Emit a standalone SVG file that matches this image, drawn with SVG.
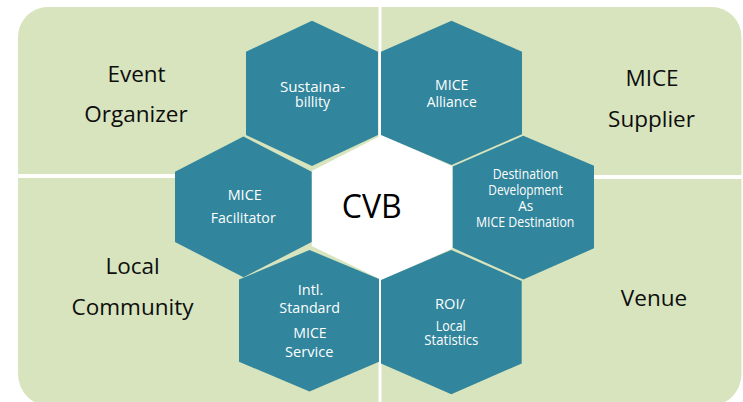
<svg xmlns="http://www.w3.org/2000/svg" width="743" height="402" viewBox="0 0 743 402">
<style>
.quad{fill:#D7E4BD}
.hex{fill:#31859C}
.core{fill:#FFFFFF}
.qlabel{font-family:"Open Sans","Liberation Sans",sans-serif;font-size:22.5px;fill:#0D0D0D;text-anchor:middle}
.core-label{font-family:"Open Sans","Liberation Sans",sans-serif;font-size:32px;fill:#000000;text-anchor:middle}
.hlabel{font-family:"Open Sans","Liberation Sans",sans-serif;font-size:14px;fill:#FFFFFF;text-anchor:middle}
</style>
<rect width="743" height="402" fill="#FFFFFF"/>
<g id="quadrant-event-organizer">
<path class="quad" d="M18,37 A30,30 0 0 1 48,7 L378.5,7 L378.5,174 L18,174 Z"/>
<text class="qlabel" x="136.5" y="81.5">Event</text>
<text class="qlabel" x="136" y="121.7">Organizer</text>
</g>
<g id="quadrant-mice-supplier">
<path class="quad" d="M381.5,7 L711.5,7 A30,30 0 0 1 741.5,37 L741.5,175 L381.5,175 Z"/>
<text class="qlabel" x="652" y="86">MICE</text>
<text class="qlabel" x="651.5" y="126.7">Supplier</text>
</g>
<g id="quadrant-local-community">
<path class="quad" d="M18,178 L378.5,178 L378.5,406 L50,406 A32,32 0 0 1 18,374 Z"/>
<text class="qlabel" x="132.7" y="274">Local</text>
<text class="qlabel" x="132.5" y="315">Community</text>
</g>
<g id="quadrant-venue">
<path class="quad" d="M381.5,179 L741.5,179 L741.5,374 A32,32 0 0 1 709.5,406 L381.5,406 Z"/>
<text class="qlabel" x="654" y="306">Venue</text>
</g>
<g id="cvb">
<polygon class="core" points="382,135 452.7,166.5 452.7,248.3 382,280 311.7,246 311.7,171"/>
<text class="core-label" x="371.7" y="218.3">CVB</text>
</g>
<g id="sustainability">
<polygon class="hex" points="312,20.7 378,51.7 378,135 312,166 246,135 246,51.7"/>
<text class="hlabel" x="312.5" y="91.7" textLength="65" lengthAdjust="spacingAndGlyphs">Sustaina-</text>
<text class="hlabel" x="312.5" y="106.7" textLength="35" lengthAdjust="spacingAndGlyphs">billity</text>
</g>
<g id="mice-alliance">
<polygon class="hex" points="451.5,20.7 522,51.7 522,134.2 451.5,165 381,135 381,51.7"/>
<text class="hlabel" x="451.7" y="90" textLength="33.3" lengthAdjust="spacingAndGlyphs">MICE</text>
<text class="hlabel" x="451.7" y="106.7" textLength="50" lengthAdjust="spacingAndGlyphs">Alliance</text>
</g>
<g id="mice-facilitator">
<polygon class="hex" points="243.5,136.5 311.7,171.7 311.7,242 243.5,277.3 175,242 175,171.7"/>
<text class="hlabel" x="244.7" y="200" textLength="34" lengthAdjust="spacingAndGlyphs">MICE</text>
<text class="hlabel" x="243.2" y="223.3" textLength="65" lengthAdjust="spacingAndGlyphs">Facilitator</text>
</g>
<g id="destination-development">
<polygon class="hex" points="523.3,135.8 594,165.7 594,248.3 523.3,279.5 452.7,247.8 452.7,166.4"/>
<text class="hlabel" x="525.5" y="179.3" textLength="65.6" lengthAdjust="spacingAndGlyphs">Destination</text>
<text class="hlabel" x="525.5" y="195" textLength="74.4" lengthAdjust="spacingAndGlyphs">Development</text>
<text class="hlabel" x="525.8" y="210.5" textLength="15" lengthAdjust="spacingAndGlyphs">As</text>
<text class="hlabel" x="525.2" y="226.5" textLength="98.3" lengthAdjust="spacingAndGlyphs">MICE Destination</text>
</g>
<g id="intl-standard-mice-service">
<polygon class="hex" points="309.5,250 379,279 379,361.7 309.5,391.5 239,361.7 239,279.5"/>
<text class="hlabel" x="310.5" y="295" textLength="25.6" lengthAdjust="spacingAndGlyphs">Intl.</text>
<text class="hlabel" x="309.7" y="313.3" textLength="60.7" lengthAdjust="spacingAndGlyphs">Standard</text>
<text class="hlabel" x="310" y="338.3" textLength="33.4" lengthAdjust="spacingAndGlyphs">MICE</text>
<text class="hlabel" x="309.2" y="356.7" textLength="48.3" lengthAdjust="spacingAndGlyphs">Service</text>
</g>
<g id="roi-local-statistics">
<polygon class="hex" points="451.3,249.9 521.7,281 521.7,363.5 451.3,394.3 381,363.5 381,280"/>
<text class="hlabel" x="450" y="309.3" textLength="30" lengthAdjust="spacingAndGlyphs">ROI/</text>
<text class="hlabel" x="450.7" y="330.7" textLength="30" lengthAdjust="spacingAndGlyphs">Local</text>
<text class="hlabel" x="451.3" y="345" textLength="54" lengthAdjust="spacingAndGlyphs">Statistics</text>
</g>
<g id="connectors"/>
</svg>
